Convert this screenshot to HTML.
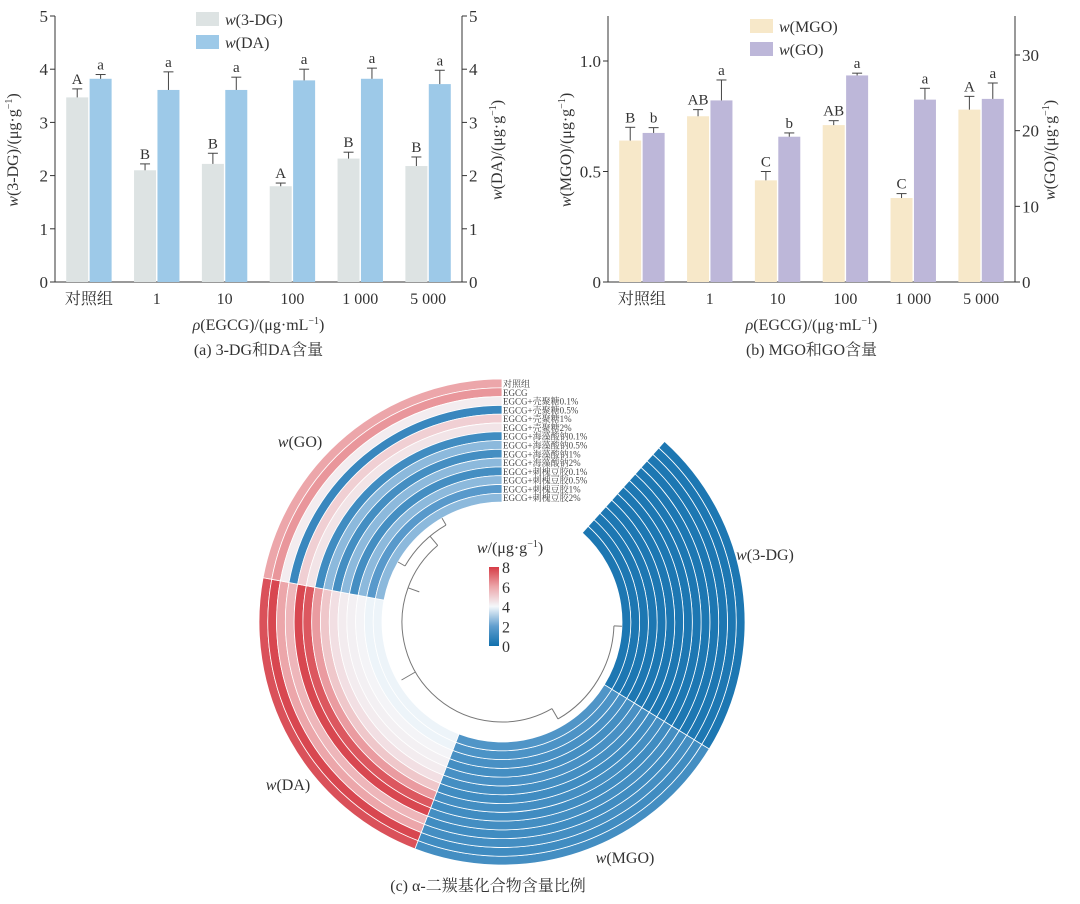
<!DOCTYPE html>
<html><head><meta charset="utf-8">
<style>
body{margin:0;background:#fff;}
svg{display:block;font-family:"Liberation Serif","Noto Serif CJK SC",serif;}
</style></head>
<body>
<svg id="fig" width="1080" height="904" viewBox="0 0 1080 904">
<g id="chartA"></g>
<g id="chartB"></g>
<g id="chartC"></g>
</svg>
<script>
// ---------- Chart data ----------
const categories = ["对照组","1","10","100","1 000","5 000"];
const dg3Values = [3.47,2.10,2.22,1.80,2.32,2.18];
const dg3ErrTop = [3.63,2.22,2.42,1.86,2.44,2.35];
const dg3Letters = ["A","B","B","A","B","B"];
const daValues = [3.82,3.61,3.61,3.79,3.82,3.72];
const daErrTop = [3.90,3.95,3.85,4.00,4.02,3.98];
const daLetters = ["a","a","a","a","a","a"];
const ticksA = [0,1,2,3,4,5];

const mgoValues = [0.64,0.75,0.46,0.71,0.38,0.78];
const mgoErrTop = [0.70,0.78,0.50,0.73,0.40,0.84];
const mgoLetters = ["B","AB","C","AB","C","A"];
const goValues = [19.7,24.0,19.2,27.3,24.1,24.2];
const goErrTop = [20.4,26.7,19.7,27.6,25.6,26.3];
const goLetters = ["b","a","b","a","a","a"];
const ticksBLeft = [0,0.5,1.0];
const ticksBLeftLabels = ["0","0.5","1.0"];
const ticksBRight = [0,10,20,30];

const ringLabels = ["对照组","EGCG","EGCG+壳聚糖0.1%","EGCG+壳聚糖0.5%","EGCG+壳聚糖1%","EGCG+壳聚糖2%","EGCG+海藻酸钠0.1%","EGCG+海藻酸钠0.5%","EGCG+海藻酸钠1%","EGCG+海藻酸钠2%","EGCG+刺槐豆胶0.1%","EGCG+刺槐豆胶0.5%","EGCG+刺槐豆胶1%","EGCG+刺槐豆胶2%"];
const sectorNames = ["w(3-DG)","w(MGO)","w(DA)","w(GO)"];
const heat3DG = [0.3,0.3,0.3,0.3,0.3,0.3,0.3,0.3,0.3,0.3,0.3,0.3,0.3,0.3];
const heatMGO = [1.3,1.2,1.3,1.2,1.3,1.2,1.3,1.2,1.3,1.4,1.3,1.4,1.5,1.6];
const heatDA = [7.6,7.8,6.0,5.6,7.8,7.5,6.2,5.2,4.6,4.3,4.2,4.1,3.9,3.9];
const heatGO = [6.0,6.3,4.3,1.0,5.0,4.5,1.2,2.6,1.3,2.6,1.3,2.6,1.8,2.6];
const colorbarTicks = [0,2,4,6,8];

const NS="http://www.w3.org/2000/svg";
function mk(parent,tag,attrs,text){const e=document.createElementNS(NS,tag);for(const k in attrs)e.setAttribute(k,attrs[k]);if(text!==undefined)e.textContent=text;parent.appendChild(e);return e;}

function barChart(g,o){
  const yL=v=>o.y0-(v-o.lmin)/(o.lmax-o.lmin)*(o.y0-o.yTopL);
  const yR=v=>o.y0-(v-o.rmin)/(o.rmax-o.rmin)*(o.y0-o.yTopR);
  const gw=(o.x1-o.x0)/categories.length;
  const bw=22, off=11.7;
  // axes
  let a=mk(g,'line',{x1:o.x0,y1:16,x2:o.x0,y2:o.y0,stroke:'#333','stroke-width':1});
  
  a=mk(g,'line',{x1:o.x1,y1:16,x2:o.x1,y2:o.y0,stroke:'#333','stroke-width':1});
  
  a=mk(g,'line',{x1:o.x0,y1:o.y0,x2:o.x1,y2:o.y0,stroke:'#333','stroke-width':1});
  
  o.lt.forEach((v,i)=>{const y=yL(v);mk(g,'line',{x1:o.x0-5,y1:y,x2:o.x0,y2:y,stroke:'#333'});
    const t=mk(g,'text',{x:o.x0-7,y:y+6,'text-anchor':'end','font-size':17,fill:'#333'},o.ltl[i]);
    });
  o.rt.forEach((v,i)=>{const y=yR(v);mk(g,'line',{x1:o.x1,y1:y,x2:o.x1+5,y2:y,stroke:'#333'});
    const t=mk(g,'text',{x:o.x1+7,y:y+6,'font-size':17,fill:'#333'},o.rtl[i]);
    });
  categories.forEach((c,i)=>{
    const cx=o.x0+gw*(i+0.5);
    const t=mk(g,'text',{x:cx,y:304,'text-anchor':'middle','font-size':16,fill:'#333'},c);
    
    [[o.s1,o.e1,o.l1,yL,o.c1,-off],[o.s2,o.e2,o.l2,yR,o.c2,off]].forEach(([s,e,l,sc,col,dx],k)=>{
      const bx=cx+dx-bw/2, top=sc(s[i]), et=sc(e[i]);
      const r=mk(g,'rect',{x:bx,y:top,width:bw,height:o.y0-top,fill:col});
      
      mk(g,'line',{x1:cx+dx,y1:top,x2:cx+dx,y2:et,stroke:'#444','stroke-width':1});
      mk(g,'line',{x1:cx+dx-5,y1:et,x2:cx+dx+5,y2:et,stroke:'#444','stroke-width':1});
      const lt=mk(g,'text',{x:cx+dx,y:et-5,'text-anchor':'middle','font-size':15,fill:'#333'},l[i]);
      
    });
  });
  // legend
  [[o.c1,o.lg1,o.ly],[o.c2,o.lg2,o.ly+23]].forEach(([col,txt,y],k)=>{
    const r=mk(g,'rect',{x:o.lx,y:y,width:23,height:14,fill:col});
    
    const t=mk(g,'text',{x:o.lx+29,y:y+13,'font-size':16,fill:'#333'});
    
    mk(t,'tspan',{'font-style':'italic'},'w');mk(t,'tspan',{},'('+txt+')');
  });
  // titles
  const mid=(o.x0+o.x1)/2;
  let t=mk(g,'text',{x:mid,y:330,'text-anchor':'middle','font-size':16,fill:'#333'});
  
  mk(t,'tspan',{'font-style':'italic'},'ρ');mk(t,'tspan',{},'(EGCG)/(μg·mL');mk(t,'tspan',{'font-size':10,dy:-6},'−1');mk(t,'tspan',{dy:6},')');
  t=mk(g,'text',{x:mid,y:355,'text-anchor':'middle','font-size':16,fill:'#333'},o.cap);
  
  [[o.x0-37,o.t1],[o.x1+40,o.t2]].forEach(([x,txt],k)=>{
    const tt=mk(g,'text',{x:0,y:0,'text-anchor':'middle','font-size':16,fill:'#333',transform:`translate(${x},150) rotate(-90)`});
    
    mk(tt,'tspan',{'font-style':'italic'},'w');mk(tt,'tspan',{},'('+txt+')/(μg·g');mk(tt,'tspan',{'font-size':10,dy:-6},'−1');mk(tt,'tspan',{dy:6},')');
  });
}

barChart(document.getElementById('chartA'),{x0:55,x1:462,y0:282,yTopL:16,yTopR:16,lmin:0,lmax:5,rmin:0,rmax:5,
  lt:ticksA,ltl:ticksA.map(String),rt:ticksA,rtl:ticksA.map(String),
  s1:dg3Values,e1:dg3ErrTop,l1:dg3Letters,s2:daValues,e2:daErrTop,l2:daLetters,
  c1:'#dde3e3',c2:'#9dc9e8',n1:'3dg',n2:'da',lg1:'3-DG',lg2:'DA',lx:196,ly:12,
  cap:'(a) 3-DG和DA含量',t1:'3-DG',t2:'DA'});
barChart(document.getElementById('chartB'),{x0:608,x1:1015,y0:282,yTopL:61,yTopR:55,lmin:0,lmax:1,rmin:0,rmax:30,
  lt:ticksBLeft,ltl:ticksBLeftLabels,rt:ticksBRight,rtl:ticksBRight.map(String),
  s1:mgoValues,e1:mgoErrTop,l1:mgoLetters,s2:goValues,e2:goErrTop,l2:goLetters,
  c1:'#f7e8c9',c2:'#bdb7d9',n1:'mgo',n2:'go',lg1:'MGO',lg2:'GO',lx:750,ly:19,
  cap:'(b) MGO和GO含量',t1:'MGO',t2:'GO'});

// ---------- Circular heatmap ----------
const gc=document.getElementById('chartC');
const CX=502, CY=622, R0=120, R1=243, GAP=42;
const nR=ringLabels.length, rw=(R1-R0)/nR;
const sw=(360-GAP)/sectorNames.length;
const stops=[[0,[17,112,173]],[2,[96,158,206]],[4,[244,248,251]],[6,[236,166,170]],[8,[214,60,70]]];
function color(v){v=Math.max(0,Math.min(8,v));for(let i=0;i<stops.length-1;i++){const[a,ca]=stops[i],[b,cb]=stops[i+1];if(v<=b){const t=(v-a)/(b-a);return 'rgb('+ca.map((c,j)=>Math.round(c+(cb[j]-c)*t)).join(',')+')';}}}
function pt(r,deg){const a=deg*Math.PI/180;return [CX+r*Math.sin(a),CY-r*Math.cos(a)];}
function sector(r1,r2,a1,a2){const p1=pt(r2,a1),p2=pt(r2,a2),p3=pt(r1,a2),p4=pt(r1,a1);const lg=(a2-a1)>180?1:0;
  return `M${p1[0]},${p1[1]}A${r2},${r2} 0 ${lg} 1 ${p2[0]},${p2[1]}L${p3[0]},${p3[1]}A${r1},${r1} 0 ${lg} 0 ${p4[0]},${p4[1]}Z`;}
function arc(r,a1,a2){const p1=pt(r,a1),p2=pt(r,a2);return `M${p1[0]},${p1[1]}A${r},${r} 0 ${(a2-a1)>180?1:0} 1 ${p2[0]},${p2[1]}`;}
[heat3DG,heatMGO,heatDA,heatGO].forEach((vals,s)=>{
  const a1=GAP+s*sw, a2=a1+sw;
  vals.forEach((v,i)=>{
    const rOut=R1-i*rw, rIn=rOut-rw;
    const p=mk(gc,'path',{d:sector(rIn,rOut,a1,a2),fill:color(v),stroke:'#fff','stroke-width':0.8});
    
    
  });
});
// ring labels
ringLabels.forEach((l,i)=>{
  const t=mk(gc,'text',{x:503,y:CY-R1+i*rw+8,'font-size':9,fill:'#444'},l);
  
  
});
// sector labels
[[765,560,'3-DG'],[625,863,'MGO'],[288,790,'DA'],[300,447,'GO']].forEach(([x,y,n])=>{
  const t=mk(gc,'text',{x:x,y:y,'text-anchor':'middle','font-size':16,fill:'#333'});
  
  
  mk(t,'tspan',{'font-style':'italic'},'w');mk(t,'tspan',{},'('+n+')');
});
// dendrogram (decorative)
const dg=mk(gc,'g',{fill:'none',stroke:'#777','stroke-width':1});

mk(dg,'path',{d:arc(100,150,290)});
mk(dg,'path',{d:arc(112,92,150)});
mk(dg,'path',{d:arc(100,290,320)});
mk(dg,'path',{d:arc(112,300,330)});
[[150,100,112],[92,112,120],[290,88,100],[320,100,112],[300,112,120],[330,112,120],[240,100,116]].forEach(([a,r1,r2])=>{
  const p1=pt(r1,a),p2=pt(r2,a);mk(dg,'line',{x1:p1[0],y1:p1[1],x2:p2[0],y2:p2[1]});});
// colorbar
const defs=mk(gc,'defs',{});
const lg=mk(defs,'linearGradient',{id:'cb',x1:0,y1:1,x2:0,y2:0});
stops.forEach(([v,c])=>mk(lg,'stop',{offset:v/8,'stop-color':'rgb('+c.join(',')+')'}));
const cbTop=567, cbBot=646;
const cb=mk(gc,'rect',{x:489,y:cbTop,width:10,height:cbBot-cbTop,fill:'url(#cb)'});

colorbarTicks.forEach(v=>{
  const y=cbBot-(v/8)*(cbBot-cbTop);
  const t=mk(gc,'text',{x:502,y:y+6,'font-size':16,fill:'#333'},String(v));
  
  
});
let ct=mk(gc,'text',{x:510,y:553,'text-anchor':'middle','font-size':16,fill:'#333'});

mk(ct,'tspan',{'font-style':'italic'},'w');mk(ct,'tspan',{},'/(μg·g');mk(ct,'tspan',{'font-size':10,dy:-6},'−1');mk(ct,'tspan',{dy:6},')');
ct=mk(gc,'text',{x:488,y:891,'text-anchor':'middle','font-size':16,fill:'#333'},'(c) α-二羰基化合物含量比例');

</script>
</body></html>
